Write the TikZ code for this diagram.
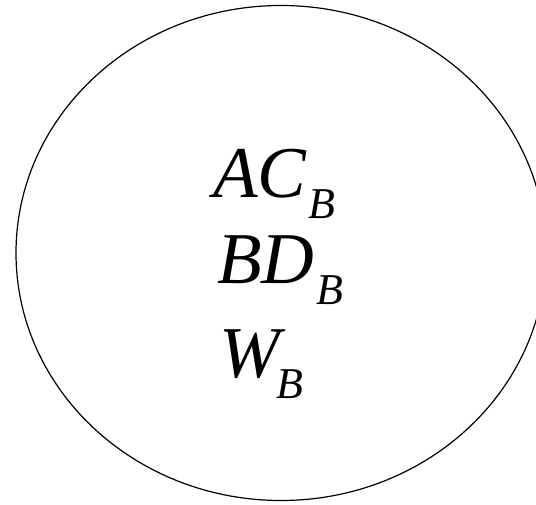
\documentclass[tikz,border=0pt]{standalone}
\usepackage{fontspec}
\setmainfont{Liberation Serif}
\usetikzlibrary{shapes.geometric}
\newcommand{\subB}[1]{\kern#1\raisebox{-21pt}{\fontsize{44}{44}\selectfont B}}
\tikzset{
  setshape/.style={draw, line width=1.2pt, ellipse, inner sep=0pt, minimum width=530pt, minimum height=495pt},
  lbl/.style={anchor=base west, inner sep=0pt, font=\fontsize{73}{73}\selectfont\itshape}
}
\begin{document}
\begin{tikzpicture}[x=1pt,y=1pt]
\useasboundingbox (0,0) rectangle (536,504);
\clip (0,0) rectangle (536,504);
\node[setshape] (set) at (281,251) {};
\node[lbl] (l1) at (213,306) {AC\subB{2pt}};
\node[lbl] (l2) at (217,220) {BD\subB{2pt}};
\node[lbl] (l3) at (219,126) {W\subB{-4pt}};
\end{tikzpicture}
\end{document}
